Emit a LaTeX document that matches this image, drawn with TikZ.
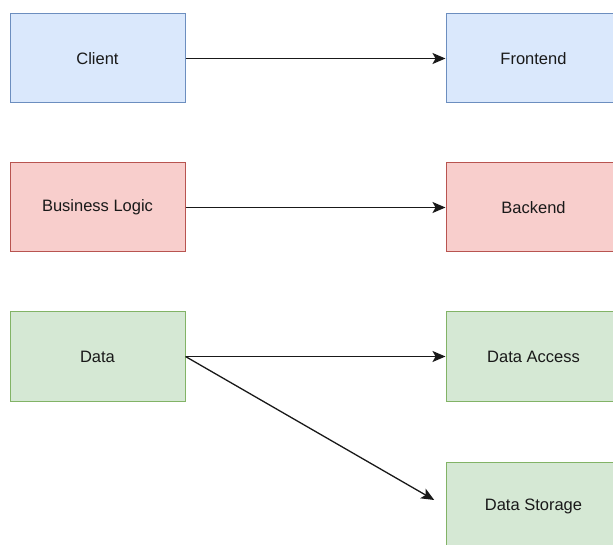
\documentclass[tikz,border=0pt]{standalone}
\usepackage{fontspec}
\setmainfont{Liberation Sans}
\usetikzlibrary{arrows.meta}
\definecolor{bluefill}{HTML}{DAE8FC}
\definecolor{bluedraw}{HTML}{6C8EBF}
\definecolor{redfill}{HTML}{F8CECC}
\definecolor{reddraw}{HTML}{B85450}
\definecolor{greenfill}{HTML}{D5E8D4}
\definecolor{greendraw}{HTML}{82B366}
\tikzset{
  box/.style={draw, line width=1pt, minimum width=175pt, minimum height=89pt,
    inner sep=0pt, font=\fontsize{16.5pt}{19pt}\selectfont, text=black!90},
  bluebox/.style={box, fill=bluefill, draw=bluedraw},
  redbox/.style={box, fill=redfill, draw=reddraw},
  greenbox/.style={box, fill=greenfill, draw=greendraw},
  link/.style={draw=black!90, line width=1.3pt,
    -{Stealth[length=13pt,width=11pt,inset=3pt]}}
}
\begin{document}
\begin{tikzpicture}[x=1pt,y=-1pt]
  \useasboundingbox (0,0) rectangle (613,545);
  \clip (0,0) rectangle (613,545);
  % left column
  \node[bluebox]  (client)  at (97.5,58.5)  {Client};
  \node[redbox]   (logic)   at (97.5,207.5) {Business Logic};
  \node[greenbox] (data)    at (97.5,356.5) {Data};
  % right column
  \node[bluebox]  (front)   at (533.5,58.5)  {Frontend};
  \node[redbox]   (back)    at (533.5,207.5) {Backend};
  \node[greenbox] (access)  at (533.5,356.5) {Data Access};
  \node[greenbox] (storage) at (533.5,506.5) {Data Storage};
  % connectors
  \draw[link] (client) -- (front);
  \draw[link] (logic) -- (back);
  \draw[link] (data) -- (access);
  \draw[link, shorten >=13pt] (data.east) -- (storage.west);
\end{tikzpicture}
\end{document}
